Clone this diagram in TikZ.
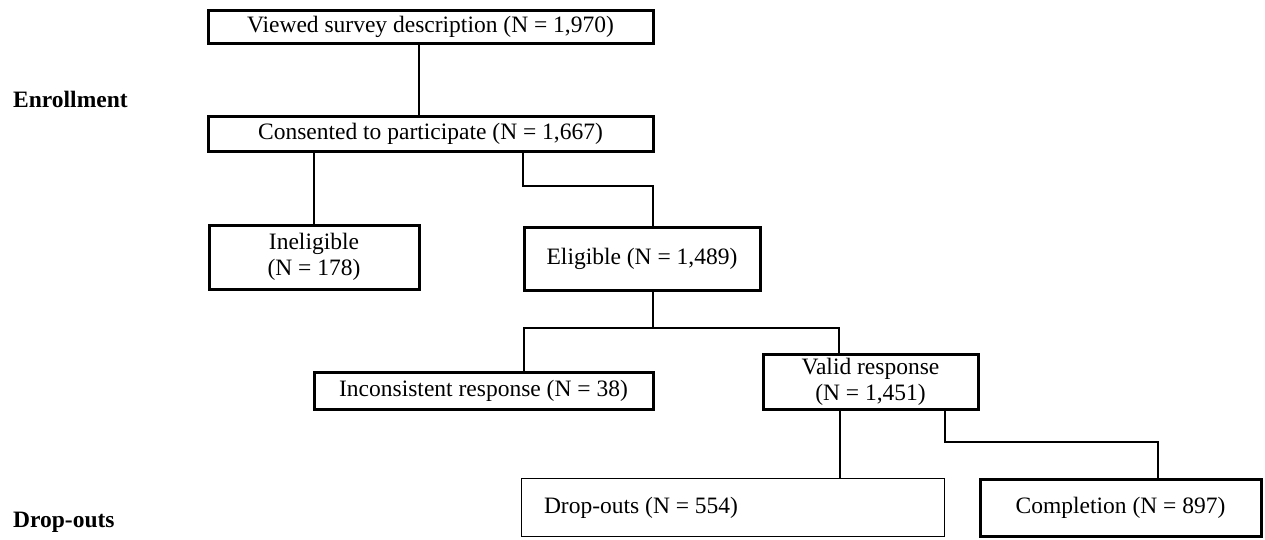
\documentclass[tikz,border=0pt]{standalone}
\usepackage{fontspec}
\setmainfont{Liberation Serif}
\begin{document}
\begin{tikzpicture}[x=1pt,y=-1pt,
  box/.style={draw,line width=3pt,inner sep=0pt,align=center,font=\fontsize{23.5}{26}\selectfont},
  thinbox/.style={box,line width=1.6pt},
  conn/.style={line width=1.6pt},
  lab/.style={anchor=west,inner sep=0pt,font=\fontsize{23.5}{26}\selectfont\bfseries}]
\useasboundingbox (0,0) rectangle (1265,539);
\node[box,minimum width=445pt,minimum height=33pt] (v) at (430.5,26.5) {Viewed survey description (N = 1,970)};
\node[box,minimum width=445pt,minimum height=35pt] (c) at (430.5,133.5) {Consented to participate (N = 1,667)};
\node[box,minimum width=210pt,minimum height=64pt] (inel) at (314,257) {Ineligible\\(N = 178)};
\node[box,minimum width=236pt,minimum height=63pt] (elig) at (642,258.5) {Eligible (N = 1,489)};
\node[box,minimum width=339pt,minimum height=37pt] (inc) at (483.5,390.5) {Inconsistent response (N = 38)};
\node[box,minimum width=215pt,minimum height=55pt] (valid) at (870.5,381.5) {Valid response\\(N = 1,451)};
\node[thinbox,minimum width=423pt,minimum height=58pt] (drop) at (733,507.5) {\makebox[378pt][l]{Drop-outs (N = 554)}};
\node[box,minimum width=281pt,minimum height=57pt] (comp) at (1120.5,507.5) {Completion (N = 897)};
\node[lab] (enr) at (13,99) {Enrollment};
\node[lab] (dro) at (13,522) {Drop-outs};
\coordinate (x1) at (419,0);
\coordinate (ce1) at (523,186);
\coordinate (ce2) at (653,186);
\coordinate (eb) at (653,328);
\coordinate (el) at (524,328);
\coordinate (er) at (839,328);
\coordinate (vd) at (840,0);
\coordinate (vc1) at (945,442);
\coordinate (vc2) at (1158,442);
\draw[conn] (v.south -| x1) -- (c.north -| x1);
\draw[conn] (c.south -| inel.north) -- (inel.north);
\draw[conn] (c.south -| ce1) -- (ce1) -- (ce2) -- (elig.north -| ce2);
\draw[conn] (elig.south -| eb) -- (eb);
\draw[conn] (inc.north -| el) -- (el) -- (er) -- (valid.north -| er);
\draw[conn] (valid.south -| vd) -- (drop.north -| vd);
\draw[conn] (valid.south -| vc1) -- (vc1) -- (vc2) -- (comp.north -| vc2);
\end{tikzpicture}
\end{document}
